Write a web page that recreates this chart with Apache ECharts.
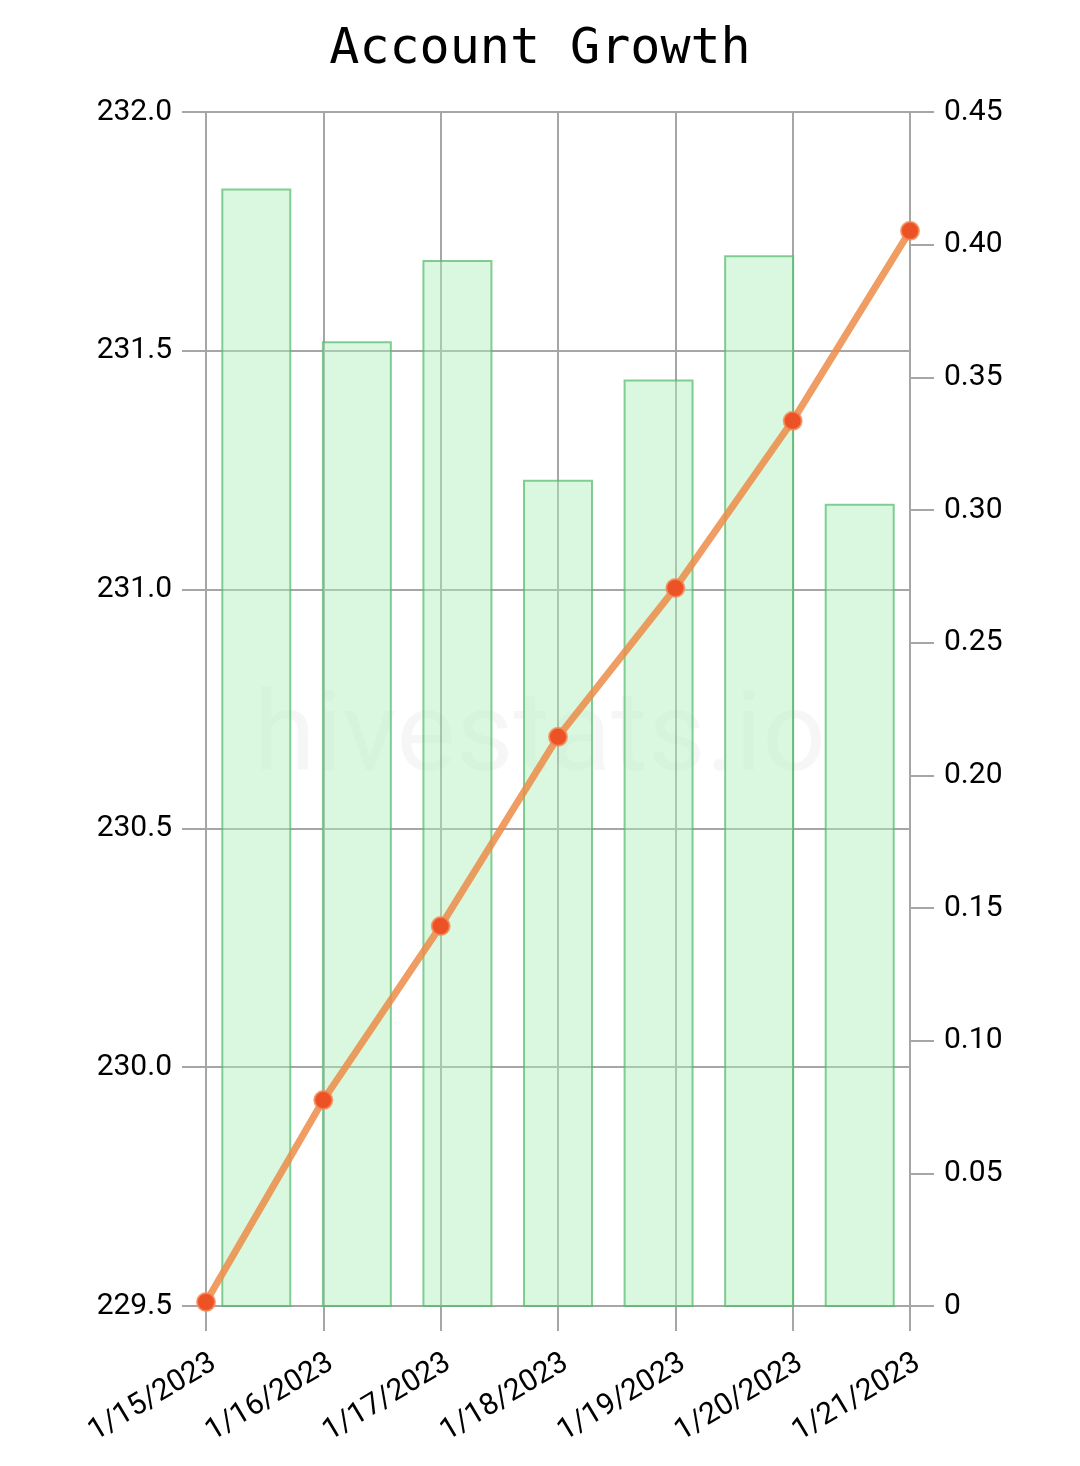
<!DOCTYPE html>
<html><head><meta charset="utf-8">
<script src="https://cdn.jsdelivr.net/npm/echarts@6/dist/echarts.min.js"></script>
<style>html,body{margin:0;padding:0;background:#fff}#c{width:1080px;height:1466px}</style>
</head><body><div id="c"></div>
<script>
const categories = ['1/15/2023','1/16/2023','1/17/2023','1/18/2023','1/19/2023','1/20/2023','1/21/2023'];
const barValues = [231.84, 231.52, 231.69, 231.23, 231.44, 231.70, 231.18];
const lineValues = [0.0015, 0.0776, 0.1432, 0.2145, 0.2706, 0.3336, 0.4052];
const leftTicks = {min: 229.5, max: 232.0, interval: 0.5};
const rightTicks = {min: 0, max: 0.45, interval: 0.05};

const chart = echarts.init(document.getElementById('c'), null, {renderer: 'canvas'});
const grey = '#a6a6a6';
chart.setOption({
  animation: false,
  title: {text: 'Account Growth', left: 'center', top: 20,
    textStyle: {fontFamily: 'DejaVu Sans Mono', fontSize: 50, fontWeight: 'normal', color: '#000'}},
  graphic: [{type: 'text', left: 'center', top: 686, z: 1, silent: true,
    style: {text: 'hivestats.io', font: '112px Roboto', fill: 'rgba(0,0,0,0.035)'}}],
  grid: {left: 206, right: 170, top: 112, bottom: 160},
  xAxis: [
    {type: 'category', data: categories, boundaryGap: false, position: 'bottom',
      axisLine: {show: true, lineStyle: {color: grey, width: 2}},
      axisTick: {show: true, length: 25, lineStyle: {color: grey, width: 2}},
      splitLine: {show: true, lineStyle: {color: grey, width: 2}},
      axisLabel: {rotate: 31, margin: 42, verticalAlign: 'top', fontFamily: 'Roboto', fontSize: 30, color: '#000'}},
    {type: 'category', data: categories, boundaryGap: true, show: false}
  ],
  yAxis: [
    {type: 'value', min: leftTicks.min, max: leftTicks.max, interval: leftTicks.interval, position: 'left',
      axisLine: {show: false},
      axisTick: {show: true, length: 24, lineStyle: {color: grey, width: 2}},
      splitLine: {show: true, lineStyle: {color: grey, width: 2}},
      axisLabel: {margin: 34, fontFamily: 'Roboto', fontSize: 30, color: '#000',
        formatter: v => v.toFixed(1)}},
    {type: 'value', min: rightTicks.min, max: rightTicks.max, interval: rightTicks.interval, position: 'right',
      axisLine: {show: false},
      axisTick: {show: true, length: 24, lineStyle: {color: grey, width: 2}},
      splitLine: {show: false},
      axisLabel: {margin: 34, fontFamily: 'Roboto', fontSize: 30, color: '#000',
        formatter: v => v === 0 ? '0' : v.toFixed(2)}}
  ],
  series: [
    {type: 'bar', xAxisIndex: 1, yAxisIndex: 0, data: barValues, barWidth: 70,
      itemStyle: {color: 'rgba(170,240,185,0.45)', borderColor: 'rgba(80,185,105,0.7)', borderWidth: 2}},
    {type: 'line', xAxisIndex: 0, yAxisIndex: 1, data: lineValues,
      lineStyle: {color: 'rgba(236,140,70,0.85)', width: 7},
      symbol: 'circle', symbolSize: 18,
      itemStyle: {color: '#ec5226', borderColor: 'rgba(245,140,90,0.8)', borderWidth: 2}, z: 5}
  ]
});
</script></body></html>
